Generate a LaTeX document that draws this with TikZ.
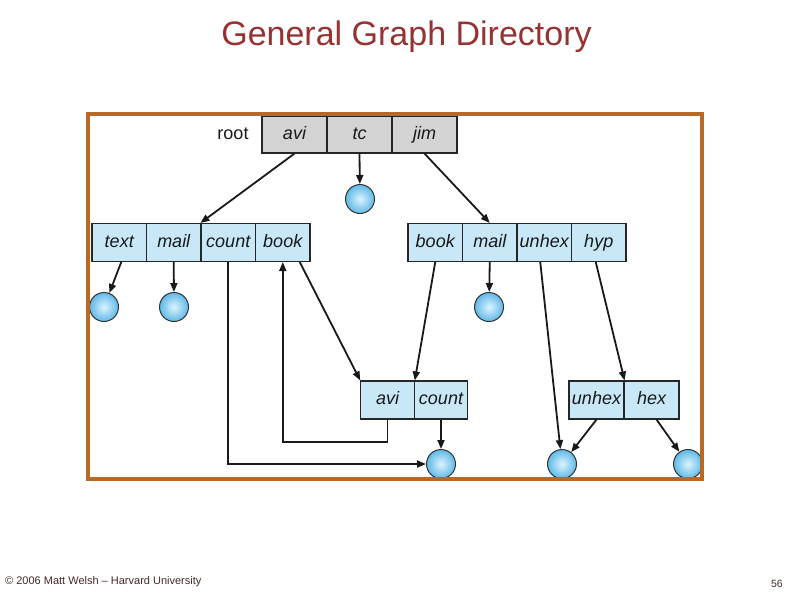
\documentclass[tikz,border=0pt]{standalone}
\usepackage{fontspec}
\setmainfont{Liberation Sans}
\usetikzlibrary{arrows.meta}
\definecolor{framebrown}{RGB}{185,105,35}
\definecolor{cellblue}{RGB}{200,232,248}
\definecolor{cellgray}{RGB}{212,212,212}
\definecolor{ballin}{RGB}{220,243,253}
\definecolor{ballout}{RGB}{95,185,232}
\definecolor{titlered}{RGB}{150,50,50}
\definecolor{footgray}{RGB}{70,40,40}
\begin{document}
\begin{tikzpicture}[x=1pt,y=-1pt,every node/.style={font=\fontsize{18}{20}\selectfont\itshape,text=black!90},
  cell/.style={draw=black!85,line width=1.1pt,minimum width=54.5pt,minimum height=38pt,inner sep=0pt,
    text height=13pt,text depth=4pt,fill=cellblue},
  rootcell/.style={cell,fill=cellgray,minimum width=65pt,minimum height=37pt},
  ball/.style={circle,draw=black!80,line width=1pt,minimum size=29pt,inner sep=0pt,
    inner color=ballin,outer color=ballout},
  link/.style={-{Triangle[length=9pt,width=7pt]},line width=1.8pt,draw=black!90}]
\useasboundingbox (0,0) rectangle (794,595);
% title and footer
\node[font=\fontsize{34}{38}\selectfont,text=titlered] (title) at (406.5,37) {General Graph Directory};
\node[font=\fontsize{11}{12}\selectfont,text=footgray,anchor=west,inner sep=0pt] (foot) at (5,582) {\textcopyright{} 2006 Matt Welsh -- Harvard University};
\node[font=\fontsize{10.5}{12}\selectfont,text=footgray,anchor=east,inner sep=0pt] (page) at (783,584) {56};
% root directory
\node[font=\fontsize{18}{20}\selectfont] (rootlbl) at (233,134) {root};
\foreach \n/\t/\x in {avi0/avi/294.5,tc0/tc/359.5,jim0/jim/424.5}
  \node[rootcell] (\n) at (\x,134.5) {\t};
% second level directories
\foreach \n/\t/\x in {text1/text/119.25,mail1/mail/173.75,count1/count/228.25,book1/book/282.75}
  \node[cell] (\n) at (\x,242.5) {\t};
\foreach \n/\t/\x in {book2/book/435.25,mail2/mail/489.75,unhex2/unhex/544.25,hyp2/hyp/598.75}
  \node[cell] (\n) at (\x,242.5) {\t};
% third level directories
\foreach \n/\t/\x in {avi3/avi/387.5,count3/count/441}
  \node[cell,minimum width=53.5pt] (\n) at (\x,400) {\t};
\foreach \n/\t/\x in {unhex4/unhex/596.5,hex4/hex/651.5}
  \node[cell,minimum width=55pt] (\n) at (\x,400) {\t};
% files
\node[ball] (tcb) at (360,199) {};
\node[ball] (textb) at (104,307) {};
\node[ball] (mailb) at (174,307) {};
\node[ball] (mail2b) at (489,307) {};
\node[ball] (countb) at (441,464) {};
\node[ball] (unhexb) at (562,464) {};
\node[ball] (hexb) at (688,464) {};
% links
\draw[link] (avi0.south) -- (count1.north west);
\draw[link] (tc0.south) -- (tcb);
\draw[link] (jim0.south) -- (mail2.north);
\draw[link] ([xshift=2pt]text1.south) -- (textb);
\draw[link] (mail1.south) -- (mailb);
\draw[link] (count1.south) |- (countb);
\draw[link] (avi3.south) -- ++(0,22.5) -| (book1.south);
\draw[link] ([xshift=17pt]book1.south) -- (avi3.north west);
\draw[link] (book2.south) -- (avi3.north east);
\draw[link] (mail2.south) -- (mail2b);
\draw[link] (count3.south) -- (countb);
\draw[link] ([xshift=-4pt]unhex2.south) -- (unhexb);
\draw[link] ([xshift=-3pt]hyp2.south) -- (unhex4.north east);
\draw[link] (unhex4.south) -- (unhexb);
\draw[link] ([xshift=5pt]hex4.south) -- (hexb);
% frame
\draw[framebrown,line width=4pt] (88,114) rectangle (702,479);
\end{tikzpicture}
\end{document}
